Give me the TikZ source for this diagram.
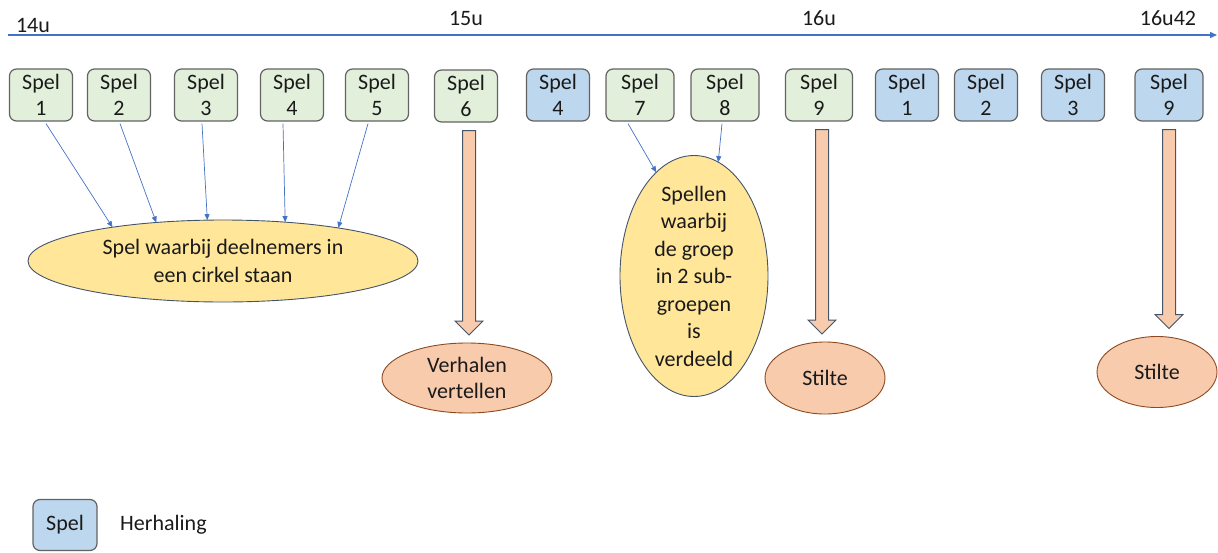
\documentclass[tikz,border=0pt]{standalone}
\usepackage{fontspec}
\setmainfont{Carlito}
\usetikzlibrary{shapes.geometric,arrows.meta,calc}
\definecolor{greenfill}{HTML}{E2EFDA}
\definecolor{bluefill}{HTML}{BDD7EE}
\definecolor{boxline}{HTML}{636363}
\definecolor{tline}{HTML}{4472C4}
\definecolor{yellowfill}{HTML}{FFE699}
\definecolor{ylline}{HTML}{44546A}
\definecolor{peach}{HTML}{F8CBAD}
\definecolor{peachline}{HTML}{8C4A22}
\definecolor{txt}{HTML}{1A1A1A}
\newcommand\fatarrow[3]{%
  \draw[fatarrowstyle] let \p1=(#1.south), \p2=(#2.north) in
    ({\x1+#3pt-6.5pt},{\y1-8pt}) -- ({\x1+#3pt+6.5pt},{\y1-8pt})
    -- ({\x1+#3pt+6.5pt},{\y2+22pt}) -- ({\x1+#3pt+14pt},{\y2+22pt})
    -- ({\x1+#3pt},{\y2+8pt}) -- ({\x1+#3pt-14pt},{\y2+22pt})
    -- ({\x1+#3pt-6.5pt},{\y2+22pt}) -- cycle;}
\begin{document}
\begin{tikzpicture}[x=1pt,y=-1pt,
  basefont/.style={font=\fontsize{22}{26}\selectfont, text=txt},
  spelbox/.style={basefont, draw=boxline, line width=1.2pt, rounded corners=7pt,
    minimum width=63pt, minimum height=52pt, inner sep=0pt, align=center},
  gbox/.style={spelbox, fill=greenfill},
  bbox/.style={spelbox, fill=bluefill},
  ellbase/.style={ellipse, basefont, inner xsep=0pt, inner ysep=-10pt, outer sep=0pt, align=center},
  yell/.style={ellbase, draw=ylline, line width=0.9pt, fill=yellowfill, font=\fontsize{22}{27.5}\selectfont},
  pell/.style={ellbase, draw=peachline, line width=0.9pt, fill=peach},
  thinarrow/.style={draw=tline, line width=0.7pt, -{Triangle[length=6pt,width=5pt]}},
  timeline/.style={draw=tline, line width=1.3pt, -{Triangle[length=7pt,width=6pt]}},
  fatarrowstyle/.style={draw=ylline, line width=1pt, fill=peach},
  tlabel/.style={basefont, anchor=base, inner sep=0pt}
]
\useasboundingbox (0,0) rectangle (1218,552);

% timeline
\coordinate (tl0) at (8,35);
\coordinate (tl1) at (1217,35);
\draw[timeline] (tl0) -- (tl1);
\node[tlabel] (t14) at (33,32) {14u};
\node[tlabel] (t15) at (466,25) {15u};
\node[tlabel] (t16) at (819,25) {16u};
\node[tlabel] (t1642) at (1168,25) {16u42};

% boxes
\node[gbox] (s1) at (41,95) {Spel\\1};
\node[gbox] (s2) at (119,95) {Spel\\2};
\node[gbox] (s3) at (206,95) {Spel\\3};
\node[gbox] (s4) at (292,95) {Spel\\4};
\node[gbox] (s5) at (377,95) {Spel\\5};
\node[gbox] (s6) at (466,96) {Spel\\6};
\node[bbox] (r4) at (558,95) {Spel\\4};
\node[gbox, minimum width=68pt] (s7) at (640,95) {Spel\\7};
\node[gbox, minimum width=68pt] (s8) at (725,95) {Spel\\8};
\node[gbox, minimum width=67pt] (s9) at (819,95) {Spel\\9};
\node[bbox] (r1) at (907,95) {Spel\\1};
\node[bbox] (r2) at (986,95) {Spel\\2};
\node[bbox] (r3) at (1073,95) {Spel\\3};
\node[bbox, minimum width=68pt] (r9) at (1169,95) {Spel\\9};

% ellipses
\node[yell, minimum width=390pt, minimum height=82pt] (e1) at (223,261)
  {Spel waarbij deelnemers in\\een cirkel staan};
\node[yell, minimum width=148pt, minimum height=241pt] (e2) at (694,276)
  {Spellen\\waarbij\\de groep\\in 2 sub-\\groepen\\is\\verdeeld};
\node[pell, minimum width=170pt, minimum height=70pt] (v) at (467,378) {Verhalen\\vertellen};
\node[pell, minimum width=120pt, minimum height=72pt] (st1) at (825,378) {Stilte};
\node[pell, minimum width=120pt, minimum height=71pt] (st2) at (1157,372) {Stilte};

% thin arrows
\draw[thinarrow] ($(s1.south)+(5,2)$) -- (e1.163.7);
\draw[thinarrow] ($(s2.south)+(1,2)$) -- (e1.150.8);
\draw[thinarrow] ($(s3.south)+(-4,2)$) -- (e1.111.6);
\draw[thinarrow] ($(s4.south)+(-9,2)$) -- (e1.32.7);
\draw[thinarrow] ($(s5.south)+(-9,2)$) -- (e1.16.5);
\draw[thinarrow] ($(s7.south)+(-12,2)$) -- (e2.110.8);
\draw[thinarrow] ($(s8.south)+(-3,2)$) -- (e2.78.7);

% block arrows
\fatarrow{s6}{v}{3}
\fatarrow{s9}{st1}{3}
\fatarrow{r9}{st2}{0}

% legend
\node[bbox, minimum width=64pt, minimum height=51pt] (leg) at (65,525) {Spel};
\node[basefont, anchor=west, inner sep=0pt] (legtxt) at (120,525) {Herhaling};
\end{tikzpicture}
\end{document}
